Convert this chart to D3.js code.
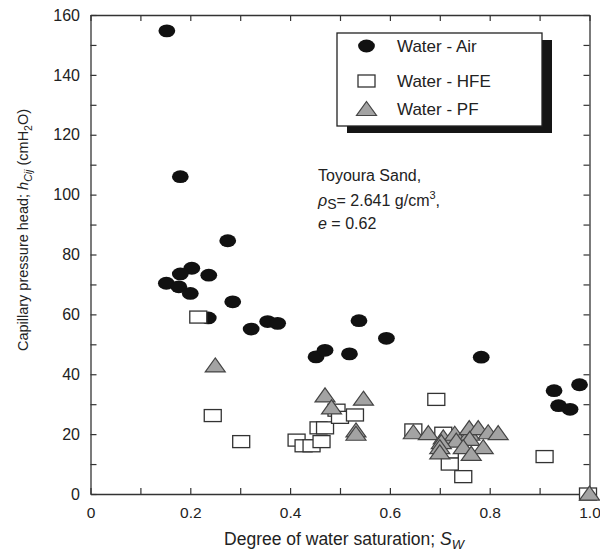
<!DOCTYPE html>
<html>
<head>
<meta charset="utf-8">
<script src="https://cdn.jsdelivr.net/npm/d3@7"></script>
<style>
  html, body { margin: 0; padding: 0; background: #fff; }
  svg { display: block; }
  text { font-family: "Liberation Sans", Arial, Helvetica, sans-serif; fill: #222; }
</style>
</head>
<body>
<script>
// Capillary pressure head vs. degree of water saturation, Toyoura sand
const seriesNames = ["Water - Air", "Water - HFE", "Water - PF"];

// [Sw, h (cmH2O)]
const waterAir = [
  [0.153, 154.7], [0.180, 106.0], [0.275, 84.6], [0.203, 75.4], [0.180, 73.5],
  [0.237, 73.1], [0.152, 70.4], [0.177, 69.2], [0.200, 67.0], [0.285, 64.2],
  [0.236, 58.8], [0.322, 55.1], [0.355, 57.6], [0.375, 57.0], [0.452, 45.8],
  [0.470, 48.0], [0.519, 46.8], [0.538, 57.9], [0.593, 52.0], [0.783, 45.7],
  [0.929, 34.5], [0.980, 36.5], [0.938, 29.5], [0.961, 28.3]
];
const waterHFE = [
  [0.216, 59.1], [0.245, 26.2], [0.302, 17.5], [0.413, 18.0], [0.427, 16.1],
  [0.443, 16.1], [0.463, 17.5], [0.457, 22.1], [0.470, 22.1], [0.493, 28.0],
  [0.500, 25.6], [0.530, 26.4], [0.693, 31.6], [0.647, 21.4], [0.707, 20.3],
  [0.720, 14.0], [0.720, 10.0], [0.747, 5.8], [0.910, 12.5], [0.997, 0.0]
];
const waterPF = [
  [0.250, 43.1], [0.470, 33.1], [0.547, 32.0], [0.483, 29.1], [0.532, 21.4],
  [0.532, 20.3], [0.647, 20.8], [0.677, 20.5], [0.707, 19.1], [0.730, 20.3],
  [0.760, 20.3], [0.759, 22.2], [0.777, 22.2], [0.797, 20.8], [0.817, 20.5],
  [0.760, 18.6], [0.733, 18.0], [0.703, 17.5], [0.700, 15.8], [0.700, 14.1],
  [0.747, 15.8], [0.787, 15.8], [0.763, 13.6], [1.000, 0.3]
];

const xTicks = [0, 0.1, 0.2, 0.3, 0.4, 0.5, 0.6, 0.7, 0.8, 0.9, 1.0];
const xTickLabels = ["0", "", "0.2", "", "0.4", "", "0.6", "", "0.8", "", "1.0"];
const yTicks = [0, 10, 20, 30, 40, 50, 60, 70, 80, 90, 100, 110, 120, 130, 140, 150, 160];
const yTickLabels = ["0", "", "20", "", "40", "", "60", "", "80", "", "100", "", "120", "", "140", "", "160"];

const W = 600, H = 554;
const margin = { left: 90.5, right: 10.5, top: 15, bottom: 60 };

const svg = d3.select("body").append("svg")
  .attr("width", W).attr("height", H);

const x = d3.scaleLinear().domain([0, 1]).range([margin.left, W - margin.right]);
const y = d3.scaleLinear().domain([0, 160]).range([H - margin.bottom, margin.top]);

const axisColor = "#333";

function styleAxis(g) {
  g.selectAll(".domain").attr("stroke", axisColor).attr("stroke-width", 1.3);
  g.selectAll(".tick line").attr("stroke", axisColor).attr("stroke-width", 1.2);
  g.selectAll(".tick text").attr("fill", "#333")
    .style("font-family", '"Liberation Sans", Arial, sans-serif');
}

// bottom axis with labels
svg.append("g")
  .attr("transform", `translate(0,${y(0)})`)
  .call(d3.axisBottom(x).tickValues(xTicks)
    .tickFormat((d, i) => xTickLabels[i])
    .tickSize(-6).tickSizeOuter(0).tickPadding(13))
  .call(g => g.selectAll(".tick text").attr("font-size", 15.5))
  .call(styleAxis);

// top axis, ticks only
svg.append("g")
  .attr("transform", `translate(0,${y(160)})`)
  .call(d3.axisTop(x).tickValues(xTicks).tickFormat("")
    .tickSize(-6).tickSizeOuter(0))
  .call(styleAxis);

// left axis with labels
svg.append("g")
  .attr("transform", `translate(${x(0)},0)`)
  .call(d3.axisLeft(y).tickValues(yTicks)
    .tickFormat((d, i) => yTickLabels[i])
    .tickSize(-6).tickSizeOuter(0).tickPadding(10.5))
  .call(g => g.selectAll(".tick text").attr("font-size", 16))
  .call(styleAxis);

// right axis, ticks only
svg.append("g")
  .attr("transform", `translate(${x(1)},0)`)
  .call(d3.axisRight(y).tickValues(yTicks).tickFormat("")
    .tickSize(-6).tickSizeOuter(0))
  .call(styleAxis);

// axis titles
const xTitle = svg.append("text")
  .attr("x", 344).attr("y", 545)
  .attr("text-anchor", "middle").attr("font-size", 17.5).attr("fill", "#333");
xTitle.append("tspan").text("Degree of water saturation; ");
xTitle.append("tspan").attr("font-style", "italic").text("S");
xTitle.append("tspan").attr("font-style", "italic").attr("font-size", 13)
  .attr("dy", 4).text("W");

const yTitle = svg.append("text")
  .attr("transform", "translate(28,230) rotate(-90)")
  .attr("text-anchor", "middle").attr("font-size", 14.5).attr("fill", "#333");
yTitle.append("tspan").text("Capillary pressure head; ");
yTitle.append("tspan").attr("font-style", "italic").text("h");
yTitle.append("tspan").attr("font-style", "italic").attr("font-size", 10.5)
  .attr("dy", 4).text("Cij");
yTitle.append("tspan").attr("dy", -4).text(" (cmH");
yTitle.append("tspan").attr("font-size", 10.5).attr("dy", 4).text("2");
yTitle.append("tspan").attr("dy", -4).text("O)");

// marker shapes
const triW = 20, triH = 14;
const triPath = `M0,${-triH / 2}L${triW / 2},${triH / 2}L${-triW / 2},${triH / 2}Z`;

function drawCircle(sel) {
  sel.append("ellipse").attr("rx", 8.4).attr("ry", 6.4).attr("fill", "#111");
}
function drawSquare(sel) {
  sel.append("rect").attr("x", -8.5).attr("y", -6).attr("width", 17).attr("height", 12)
    .attr("fill", "#fff").attr("stroke", "#333").attr("stroke-width", 1.3);
}
function drawTriangle(sel) {
  sel.append("path").attr("d", triPath)
    .attr("fill", "#a3a3a3").attr("stroke", "#444").attr("stroke-width", 1.2)
    .attr("stroke-linejoin", "miter");
}

const plot = svg.append("g");

plot.selectAll("g.air").data(waterAir).join("g").attr("class", "air")
  .attr("transform", d => `translate(${x(d[0])},${y(d[1])})`)
  .call(drawCircle);

plot.selectAll("g.hfe").data(waterHFE).join("g").attr("class", "hfe")
  .attr("transform", d => `translate(${x(d[0])},${y(d[1])})`)
  .call(drawSquare);

plot.selectAll("g.pf").data(waterPF).join("g").attr("class", "pf")
  .attr("transform", d => `translate(${x(d[0])},${y(d[1])})`)
  .call(drawTriangle);

// legend with drop shadow
const legend = svg.append("g").attr("transform", "translate(337,33)");
legend.append("rect").attr("x", 10).attr("y", 7).attr("width", 205).attr("height", 93)
  .attr("fill", "#151515");
legend.append("rect").attr("x", 0).attr("y", 0).attr("width", 205).attr("height", 93)
  .attr("fill", "#fff").attr("stroke", "#222").attr("stroke-width", 1.3);

const legendRows = [13, 48, 75.5];
const legendDraw = [drawCircle, drawSquare, drawTriangle];
seriesNames.forEach((name, i) => {
  const row = legend.append("g").attr("transform", `translate(0,${legendRows[i]})`);
  row.append("g").attr("transform", "translate(29.5,0)").call(legendDraw[i]);
  row.append("text").attr("x", 60).attr("y", 6).attr("font-size", 17)
    .attr("fill", "#222").text(name);
});

// sample annotation
const note = svg.append("g").attr("transform", "translate(318,0)");
note.append("text").attr("y", 181).attr("font-size", 16).text("Toyoura Sand,");
const rho = note.append("text").attr("y", 206).attr("font-size", 16);
rho.append("tspan").attr("font-style", "italic").text("ρ");
rho.append("tspan").attr("font-size", 14).attr("dy", 3).text("S");
rho.append("tspan").attr("dy", -3).text("= 2.641 g/cm");
rho.append("tspan").attr("font-size", 11).attr("dy", -7).text("3");
rho.append("tspan").attr("dy", 7).text(",");
const eLine = note.append("text").attr("y", 229).attr("font-size", 16);
eLine.append("tspan").attr("font-style", "italic").text("e");
eLine.append("tspan").text(" = 0.62");
</script>
</body>
</html>
